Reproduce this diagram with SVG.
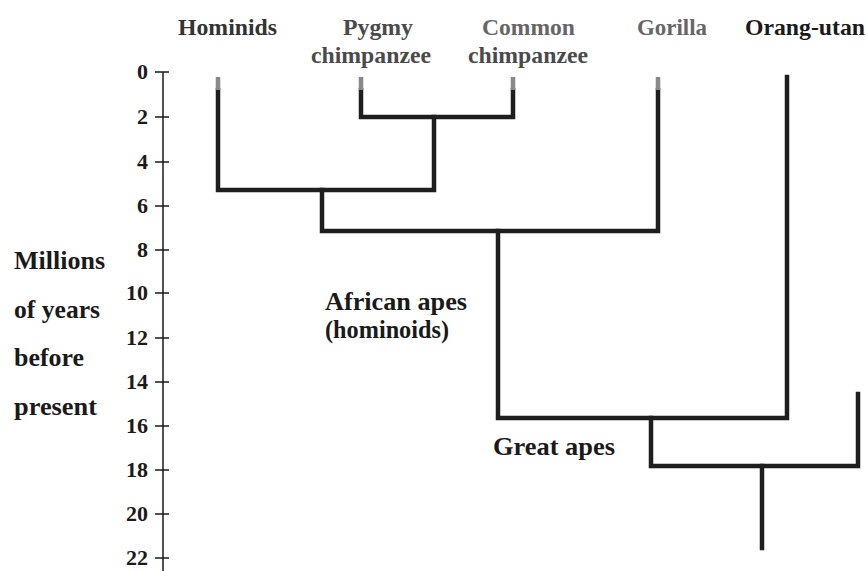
<svg xmlns="http://www.w3.org/2000/svg" width="867" height="571" viewBox="0 0 867 571">
<style>
text{font-family:"Liberation Serif","Times New Roman",serif;font-weight:bold;fill:#1a1a1a}
.lab{font-size:25px}
.top{font-size:23px}
.tick{font-size:22px;text-anchor:end}
.dark{fill:#333}
.gray{fill:#4a4a4a}
.lgray{fill:#666}
.branch{stroke:#1e1e1e;stroke-width:4.5;fill:none;stroke-linejoin:miter;stroke-linecap:square}
.axis{stroke:#1a1a1a;stroke-width:1.5;fill:none}
</style>
<rect width="867" height="571" fill="#fff"/>
<g id="axis">
<line class="axis" x1="163" y1="72" x2="163" y2="571"/>
<path class="axis" d="M155 72H169M155 117H169M155 162H169M155 206H169M155 250H169M155 293H169M155 338H169M155 382H169M155 426H169M155 470H169M155 514H169M155 558H169"/>
<text class="tick" x="148" y="79">0</text>
<text class="tick" x="148" y="124">2</text>
<text class="tick" x="148" y="169">4</text>
<text class="tick" x="148" y="213">6</text>
<text class="tick" x="148" y="257">8</text>
<text class="tick" x="148" y="300">10</text>
<text class="tick" x="148" y="345">12</text>
<text class="tick" x="148" y="389">14</text>
<text class="tick" x="148" y="433">16</text>
<text class="tick" x="148" y="477">18</text>
<text class="tick" x="148" y="521">20</text>
<text class="tick" x="148" y="565">22</text>
</g>
<g id="axis-title">
<text class="lab" x="14" y="269" textLength="91" lengthAdjust="spacingAndGlyphs">Millions</text>
<text class="lab" x="14" y="318" textLength="86" lengthAdjust="spacingAndGlyphs">of years</text>
<text class="lab" x="14" y="366" textLength="70" lengthAdjust="spacingAndGlyphs">before</text>
<text class="lab" x="14" y="415" textLength="83" lengthAdjust="spacingAndGlyphs">present</text>
</g>
<g id="hominids"><text class="top dark" x="178" y="35" textLength="99" lengthAdjust="spacingAndGlyphs">Hominids</text></g>
<g id="pygmy-chimpanzee">
<text class="top gray" x="343" y="35" textLength="70" lengthAdjust="spacingAndGlyphs">Pygmy</text>
<text class="top gray" x="311" y="63" textLength="120" lengthAdjust="spacingAndGlyphs">chimpanzee</text>
</g>
<g id="common-chimpanzee">
<text class="top lgray" x="482" y="35" textLength="93" lengthAdjust="spacingAndGlyphs">Common</text>
<text class="top gray" x="468" y="63" textLength="120" lengthAdjust="spacingAndGlyphs">chimpanzee</text>
</g>
<g id="gorilla"><text class="top lgray" x="637" y="35" textLength="70" lengthAdjust="spacingAndGlyphs">Gorilla</text></g>
<g id="orang-utan"><text class="top" x="745" y="35" textLength="120" lengthAdjust="spacingAndGlyphs">Orang-utan</text></g>
<g id="african-apes">
<text class="lab" x="325" y="310" textLength="142" lengthAdjust="spacingAndGlyphs">African apes</text>
<text class="lab" x="325" y="338" textLength="124" lengthAdjust="spacingAndGlyphs">(hominoids)</text>
</g>
<g id="great-apes"><text class="lab" x="493" y="455" textLength="122" lengthAdjust="spacingAndGlyphs">Great apes</text></g>
<g id="connectors">
<path class="branch" d="M218 90V190H434V117"/>
<path class="branch" d="M361 90V117H513V90"/>
<path class="branch" d="M322 190V231H658V90"/>
<path class="branch" d="M498 231V418H787V77"/>
<path class="branch" d="M651 418V466H858V394"/>
<path class="branch" d="M762 466V548"/>
<path stroke="#888" stroke-width="4.5" d="M218 77V90M361 77V90M513 77V90M658 77V90"/>
</g>
</svg>
